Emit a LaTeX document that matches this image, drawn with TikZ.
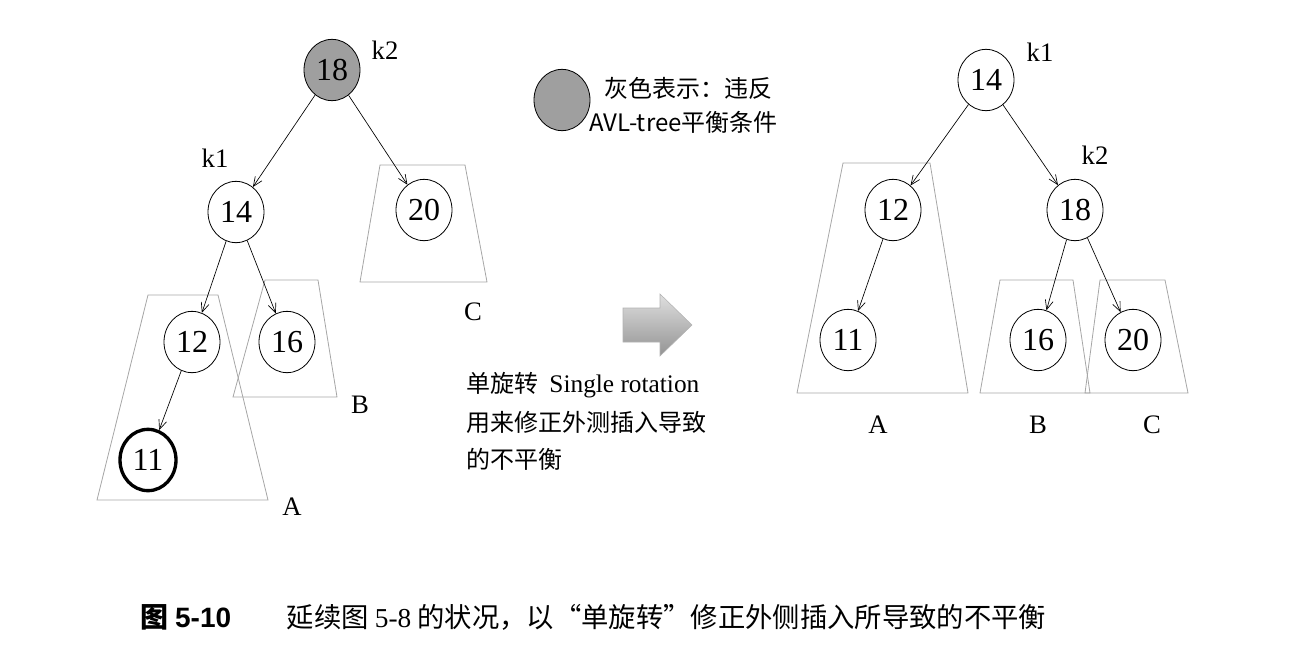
\documentclass[tikz,border=0pt]{standalone}
\usepackage{fontspec}
\setmainfont{Liberation Serif}
\newfontfamily\cjk{Noto Sans CJK SC}
\newfontfamily\lsans{Liberation Sans}
\usetikzlibrary{shapes.geometric,arrows.meta}
\begin{document}
\begin{tikzpicture}[x=0.75pt,y=-0.75pt,
  nd/.style={ellipse,draw,line width=0.6pt,minimum width=42pt,minimum height=46pt,inner sep=0pt,font=\fontsize{24}{24}\selectfont},
  ed/.style={draw,line width=0.5pt,-{Straight Barb[length=7pt,width=6pt]}},
  trap/.style={draw=gray!70,line width=0.6pt},
  lb/.style={font=\fontsize{20}{20}\selectfont},
  zh/.style={font=\cjk\fontsize{18}{18}\selectfont}]
\useasboundingbox (0,0) rectangle (1299,653);
% trapezoids left
\draw[trap] (380,165)--(465,165)--(487,282)--(360,282)--cycle;
\draw[trap] (265,280)--(318,280)--(337,397)--(233,397)--cycle;
\draw[trap] (148,295)--(218,295)--(268,500)--(97,500)--cycle;
% left tree
\node[nd,fill=gray!75] (a18) at (332,70) {18};
\node[nd,fill=white] (a14) at (236,212) {14};
\node[nd,fill=white] (a20) at (424,210) {20};
\node[nd,fill=white] (a12) at (192,342) {12};
\node[nd,fill=white] (a16) at (287,342) {16};
\node[nd,fill=white,line width=2.5pt] (a11) at (148,460) {11};
\draw[ed] (a18)--(a14); \draw[ed] (a18)--(a20);
\draw[ed] (a14)--(a12); \draw[ed] (a14)--(a16);
\draw[ed] (a12)--(a11);
\node[lb] (lk2) at (385,50) {k2};
\node[lb] (lk1) at (215,158) {k1};
\node[lb] (lC) at (473,312) {C};
\node[lb] (lB) at (360,405) {B};
\node[lb] (lA) at (292,507) {A};
% legend
\node[nd,fill=gray!75] (leg) at (562,100) {};
\node[zh,anchor=west] (leg1) at (600,88) {灰色表示：违反};
\node[zh,anchor=west] (leg2) at (585,122) {AVL-tree平衡条件};
% arrow
\shade[top color=gray!25,bottom color=gray!85,draw=gray!60]
  (623,308)--(660,308)--(660,294)--(692,325)--(660,356)--(660,342)--(623,342)--cycle;
\node[zh,anchor=west] (t1) at (462,385) {单旋转\ \ {\rmfamily\fontsize{19}{19}\selectfont Single rotation}};
\node[zh,anchor=west] (t2) at (462,422) {用来修正外测插入导致};
\node[zh,anchor=west] (t3) at (462,459) {的不平衡};
% right trapezoids
\draw[trap] (843,163)--(930,163)--(968,393)--(797,393)--cycle;
\draw[trap] (1000,280)--(1073,280)--(1090,393)--(980,393)--cycle;
\draw[trap] (1100,280)--(1165,280)--(1188,393)--(1085,393)--cycle;
\node[nd,fill=white] (b14) at (986,80) {14};
\node[nd,fill=white] (b12) at (893,210) {12};
\node[nd,fill=white] (b18) at (1075,210) {18};
\node[nd,fill=white] (b11) at (848,340) {11};
\node[nd,fill=white] (b16) at (1038,340) {16};
\node[nd,fill=white] (b20) at (1133,340) {20};
\draw[ed] (b14)--(b12); \draw[ed] (b14)--(b18);
\draw[ed] (b12)--(b11); \draw[ed] (b18)--(b16); \draw[ed] (b18)--(b20);
\node[lb] (rk1) at (1040,52) {k1};
\node[lb] (rk2) at (1095,155) {k2};
\node[lb] (rA) at (878,425) {A};
\node[lb] (rB) at (1038,425) {B};
\node[lb] (rC) at (1152,425) {C};
% caption
\node[anchor=west,font=\cjk\bfseries\fontsize{21}{21}\selectfont] (cap1) at (136,617) {图 {\lsans\bfseries 5-10}};
\node[anchor=west,font=\cjk\fontsize{20.5}{20.5}\selectfont] (cap2) at (282,617) {延续图 {\rmfamily 5-8} 的状况，以“单旋转”修正外侧插入所导致的不平衡};
\end{tikzpicture}
\end{document}
